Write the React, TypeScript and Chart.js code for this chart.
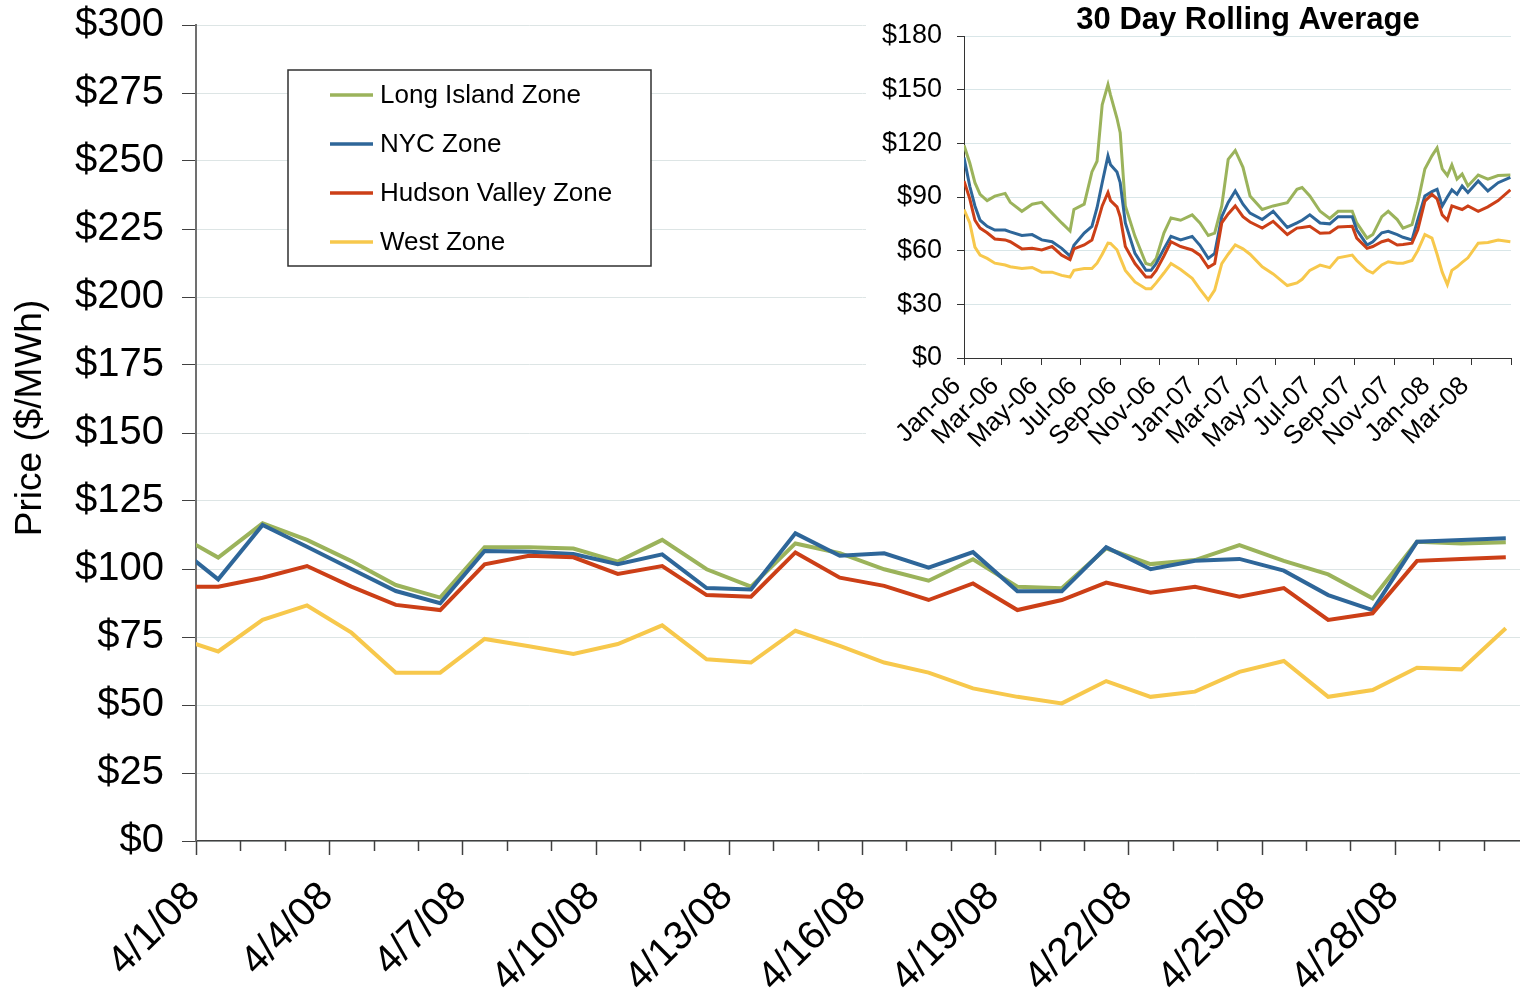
import React, { useEffect, useRef } from 'react';
import { Chart, registerables } from 'chart.js';

Chart.register(...registerables);

const FONT = "'Liberation Sans', Arial, Helvetica, sans-serif";

const seriesNames = ['Long Island Zone', 'NYC Zone', 'Hudson Valley Zone', 'West Zone'];
const seriesColors = ['#9bb35b', '#2e6699', '#cc3f17', '#f7c84c'];

// ---- Main chart: daily prices (3/31/08 is only partly visible: clipped at the axis) ----
const mainDates = [
  '3/31/08', '4/1/08', '4/2/08', '4/3/08', '4/4/08', '4/5/08', '4/6/08', '4/7/08', '4/8/08', '4/9/08', '4/10/08',
  '4/11/08', '4/12/08', '4/13/08', '4/14/08', '4/15/08', '4/16/08', '4/17/08', '4/18/08', '4/19/08', '4/20/08',
  '4/21/08', '4/22/08', '4/23/08', '4/24/08', '4/25/08', '4/26/08', '4/27/08', '4/28/08', '4/29/08', '4/30/08',
];
const longIsland = [113.4, 104.2, 116.8, 110.7, 102.9, 94.1, 89.5, 108.0, 108.0, 107.5, 102.7, 110.7, 99.9, 93.5, 109.4, 105.8, 99.9, 95.7, 103.6, 93.5, 92.9, 107.6, 101.8, 103.3, 108.8, 103.0, 98.0, 89.2, 110.0, 109.4, 109.8];
const nyc = [109.2, 96.2, 116.2, 108.2, 100.0, 91.9, 87.4, 106.6, 106.3, 105.5, 101.8, 105.4, 93.0, 92.5, 113.1, 104.9, 105.8, 100.5, 106.2, 91.8, 91.8, 108.0, 99.9, 103.0, 103.7, 99.4, 90.4, 84.9, 110.0, 110.7, 111.3];
const hudsonValley = [93.5, 93.5, 96.8, 101.1, 93.5, 86.8, 84.9, 101.7, 104.9, 104.3, 98.2, 101.1, 90.4, 89.8, 106.1, 96.8, 93.8, 88.6, 94.7, 84.9, 88.6, 95.0, 91.3, 93.5, 89.8, 93.0, 81.3, 83.7, 103.0, 103.7, 104.3];
const west = [75.1, 69.7, 81.3, 86.6, 76.6, 61.9, 61.9, 74.3, 71.6, 68.8, 72.4, 79.3, 66.8, 65.6, 77.3, 71.7, 65.6, 61.9, 56.1, 53.0, 50.6, 58.8, 53.0, 54.9, 62.2, 66.2, 53.0, 55.5, 63.7, 63.1, 78.2];
const mainTickLabels = ['4/1/08', '4/4/08', '4/7/08', '4/10/08', '4/13/08', '4/16/08', '4/19/08', '4/22/08', '4/25/08', '4/28/08'];
const mainYTitle = 'Price ($/MWh)';

// ---- Inset: 30 day rolling average, x = days since 1 Jan 2006 ----
const insetTitle = '30 Day Rolling Average';
const insetDays = [0, 9, 17, 25, 36, 48, 64, 72, 90, 106, 121, 137, 152, 165, 171, 187, 199, 207, 215, 224, 228, 238, 243, 251, 266, 283, 291, 299, 311, 322, 337, 355, 367, 380, 390, 401, 411, 422, 434, 445, 464, 481, 503, 518, 526, 538, 554, 569, 582, 604, 611, 627, 636, 650, 660, 674, 683, 697, 706, 717, 728, 736, 744, 752, 759, 767, 775, 784, 800, 815, 831, 850];
const insetLongIsland = [119, 109, 98, 91.5, 88, 90.5, 92, 87, 82, 86, 87, 81, 75.5, 71, 83, 86, 104, 110, 141.5, 152.8, 147, 134, 126, 85, 68, 52.8, 52, 55.7, 69.8, 78.3, 77, 80, 75.5, 68.5, 69.8, 85, 111, 116, 106.6, 90.6, 83, 85, 86.8, 94.3, 95.3, 90.6, 82, 78, 82, 82, 75.5, 67, 69, 79, 82, 77.4, 72.6, 74.5, 86.8, 105.7, 113, 117.4, 105.7, 102, 108, 100, 102.8, 96.2, 102.3, 100, 102, 102.3];
const insetNyc = [112, 96, 85, 77, 73.6, 71.5, 71.5, 70.5, 68.5, 69, 66, 65, 61.3, 57, 63, 69.8, 73.6, 84, 98, 113, 108, 104, 98, 75.5, 58.5, 49, 49, 52.8, 61, 68, 66, 68, 63, 55.7, 58.5, 79, 87, 93.4, 86, 81, 77.4, 82, 73, 75.5, 77, 80, 75.5, 75, 79, 79, 71.7, 63.2, 65, 70, 70.8, 69, 67.5, 66, 77.4, 90.6, 93, 94.3, 85, 90, 94, 91.5, 96.2, 92.5, 99, 93.4, 98, 101];
const insetHudsonValley = [99, 89, 77, 72.6, 70, 66.5, 66, 65, 61, 61.3, 60.4, 62.3, 57.5, 55, 61, 63.2, 66, 75, 85, 92.5, 88, 84.5, 79, 62.3, 52.8, 45.3, 45.3, 49, 57, 65, 62.3, 60.4, 57.5, 50.6, 52.8, 75.5, 80.5, 85, 79, 76, 72.6, 76.4, 69, 72.6, 73, 73.6, 69.8, 70, 73.2, 73.6, 67, 61.3, 62.3, 65, 66, 63.2, 63.5, 64.2, 71.7, 87.7, 91.5, 89, 80, 77, 85, 84, 83, 85, 82, 84.5, 88, 94];
const insetWest = [83, 75.5, 62, 57.5, 55.7, 53, 52, 51, 50, 50.6, 48, 48, 46.2, 45.3, 49, 50, 50, 53, 58, 64.2, 64, 60.5, 56, 49, 42.5, 38.7, 38.7, 42, 47.5, 52.8, 49.5, 44.5, 38.5, 32.5, 38, 52.8, 58, 63.2, 61, 58, 51, 47, 40.5, 42, 44, 49, 51.9, 50.5, 56, 57.5, 54.5, 49, 47.5, 52, 53.8, 53, 53, 54.5, 60, 69, 67, 58, 48, 41, 49, 51, 53.5, 56, 64.2, 64.6, 66, 65];
const insetTickDays = [0, 59, 120, 181, 243, 304, 365, 424, 485, 546, 608, 669, 730, 790, 851];
const insetTickLabels = ['Jan-06', 'Mar-06', 'May-06', 'Jul-06', 'Sep-06', 'Nov-06', 'Jan-07', 'Mar-07', 'May-07', 'Jul-07', 'Sep-07', 'Nov-07', 'Jan-08', 'Mar-08', ''];

const mainSeries = [longIsland, nyc, hudsonValley, west];
const insetSeries = [insetLongIsland, insetNyc, insetHudsonValley, insetWest];

const MAIN_W = 1568;
const MAIN_H = 994;
const INSET_LEFT = 866;
const INSET_W = 764;
const INSET_H = 465;

const boxLegend = {
  id: 'boxLegend',
  afterDraw(chart: any) {
    const ctx = chart.ctx;
    ctx.save();
    ctx.fillStyle = '#ffffff';
    ctx.fillRect(288, 70, 363, 196);
    ctx.strokeStyle = '#303030';
    ctx.lineWidth = 1.5;
    ctx.strokeRect(288, 70, 363, 196);
    chart.data.datasets.forEach((ds: any, i: number) => {
      const y = 95 + i * 49;
      ctx.strokeStyle = ds.borderColor;
      ctx.lineWidth = 3.5;
      ctx.beginPath();
      ctx.moveTo(330, y);
      ctx.lineTo(373, y);
      ctx.stroke();
      ctx.fillStyle = '#000';
      ctx.font = `26px ${FONT}`;
      ctx.textBaseline = 'middle';
      ctx.textAlign = 'left';
      ctx.fillText(ds.label, 380, y + 1);
    });
    ctx.restore();
  },
};

const dayTicks = {
  id: 'dayTicks',
  afterDraw(chart: any) {
    const xs = chart.scales.x;
    const ctx = chart.ctx;
    ctx.save();
    ctx.strokeStyle = '#404040';
    ctx.lineWidth = 1.5;
    xs.ticks.forEach((t: any) => {
      const px = Math.round(xs.getPixelForValue(t.value)) + 0.5;
      const len = t.value % 3 === 0 ? 14 : 10;
      ctx.beginPath();
      ctx.moveTo(px, xs.top);
      ctx.lineTo(px, xs.top + len);
      ctx.stroke();
    });
    ctx.restore();
  },
};

const yTitle = {
  id: 'yTitle',
  afterDraw(chart: any) {
    const ctx = chart.ctx;
    ctx.save();
    ctx.translate(31, 418);
    ctx.rotate(-Math.PI / 2);
    ctx.fillStyle = '#000';
    ctx.font = `37px ${FONT}`;
    ctx.textAlign = 'center';
    ctx.textBaseline = 'middle';
    ctx.fillText(mainYTitle, 0, 0);
    ctx.restore();
  },
};

const insetTitlePlugin = {
  id: 'insetTitle',
  afterDraw(chart: any) {
    const ctx = chart.ctx;
    ctx.save();
    ctx.fillStyle = '#000';
    ctx.font = `bold 31px ${FONT}`;
    ctx.textAlign = 'center';
    ctx.textBaseline = 'middle';
    ctx.fillText(insetTitle, 1248 - INSET_LEFT, 20);
    ctx.restore();
  },
};

export default function App() {
  const mainRef = useRef<HTMLCanvasElement>(null);
  const insetRef = useRef<HTMLCanvasElement>(null);

  useEffect(() => {
    const main = new Chart(mainRef.current as HTMLCanvasElement, {
      type: 'line',
      data: {
        datasets: seriesNames.map((name, k) => ({
          label: name,
          data: mainDates.map((_, i) => ({ x: i - 0.5, y: mainSeries[k][i] })),
          borderColor: seriesColors[k],
          backgroundColor: seriesColors[k],
          borderWidth: 4,
          pointRadius: 0,
          tension: 0,
          fill: false,
          clip: 0,
          order: seriesNames.length - k,
        })),
      },
      options: {
        animation: false,
        responsive: false,
        maintainAspectRatio: false,
        layout: { padding: { top: 25, right: MAIN_W - 1528, left: 0, bottom: 0 } },
        plugins: { legend: { display: false }, tooltip: { enabled: false }, title: { display: false } },
        scales: {
          x: {
            type: 'linear',
            min: 0,
            max: 30,
            afterBuildTicks: (s: any) => {
              s.ticks = mainDates.map((_, i) => ({ value: i }));
            },
            afterFit: (s: any) => {
              s.height = MAIN_H - 841;
              s.paddingLeft = 0;
              s.paddingRight = 0;
            },
            grid: { drawOnChartArea: false, drawTicks: true, tickLength: 14, tickColor: 'rgba(0,0,0,0)' },
            border: { display: true, color: '#404040', width: 1.5 },
            ticks: {
              autoSkip: false,
              maxRotation: 45,
              minRotation: 45,
              padding: 18,
              labelOffset: -2,
              color: '#000',
              font: { family: FONT, size: 40 },
              callback: (v: any) => (v % 3 === 0 && v / 3 < mainTickLabels.length ? mainTickLabels[v / 3] : ''),
            },
          },
          y: {
            min: 0,
            max: 300,
            afterFit: (s: any) => {
              s.width = 196;
              s.paddingTop = 0;
              s.paddingBottom = 0;
            },
            ticks: {
              stepSize: 25,
              padding: 18,
              color: '#000',
              font: { family: FONT, size: 40 },
              callback: (v: any) => '$' + v,
            },
            grid: { color: '#dde5e5', lineWidth: 1, drawTicks: true, tickLength: 14, tickColor: '#404040' },
            border: { color: '#707070', width: 2 },
          },
        },
      },
      plugins: [boxLegend, dayTicks, yTitle],
    } as any);

    const inset = new Chart(insetRef.current as HTMLCanvasElement, {
      type: 'line',
      data: {
        datasets: seriesNames.map((name, k) => ({
          label: name,
          data: insetDays.map((d, i) => ({ x: d, y: insetSeries[k][i] })),
          borderColor: seriesColors[k],
          backgroundColor: seriesColors[k],
          borderWidth: 3,
          pointRadius: 0,
          tension: 0,
          fill: false,
          order: seriesNames.length - k,
        })),
      },
      options: {
        animation: false,
        responsive: false,
        maintainAspectRatio: false,
        layout: { padding: { top: 36, right: INSET_W - (1511 - INSET_LEFT), left: 0, bottom: 0 } },
        plugins: {
          legend: { display: false },
          tooltip: { enabled: false },
          title: { display: false },
        },
        scales: {
          x: {
            type: 'linear',
            min: 0,
            max: 851,
            afterBuildTicks: (s: any) => {
              s.ticks = insetTickDays.map((d) => ({ value: d }));
            },
            afterFit: (s: any) => {
              s.height = INSET_H - 358;
              s.paddingLeft = 0;
              s.paddingRight = 0;
            },
            grid: { drawOnChartArea: false, drawTicks: true, tickLength: 7, tickColor: '#333' },
            border: { display: true, color: '#333', width: 1 },
            ticks: {
              autoSkip: false,
              maxRotation: 45,
              minRotation: 45,
              padding: 6,
              labelOffset: -7,
              color: '#000',
              font: { family: FONT, size: 26 },
              callback: (v: any) => {
                const idx = insetTickDays.indexOf(v);
                return idx >= 0 ? insetTickLabels[idx] : '';
              },
            },
          },
          y: {
            min: 0,
            max: 180,
            afterFit: (s: any) => {
              s.width = 964 - INSET_LEFT;
              s.paddingTop = 0;
              s.paddingBottom = 0;
            },
            ticks: {
              stepSize: 30,
              padding: 15,
              color: '#000',
              font: { family: FONT, size: 27 },
              callback: (v: any) => '$' + v,
            },
            grid: { color: '#d9e6e8', lineWidth: 1, drawTicks: true, tickLength: 7, tickColor: '#333' },
            border: { color: '#333', width: 1 },
          },
        },
      },
      plugins: [insetTitlePlugin],
    } as any);

    return () => {
      main.destroy();
      inset.destroy();
    };
  }, []);

  return (
    <div
      style={{
        position: 'absolute',
        left: 0,
        top: 0,
        width: 1520,
        height: 994,
        overflow: 'hidden',
        background: '#fff',
      }}
    >
      <canvas ref={mainRef} width={MAIN_W} height={MAIN_H} style={{ position: 'absolute', left: 0, top: 0 }} />
      <div
        style={{
          position: 'absolute',
          left: INSET_LEFT,
          top: 0,
          width: INSET_W,
          height: INSET_H,
          background: '#fff',
        }}
      >
        <canvas ref={insetRef} width={INSET_W} height={INSET_H} style={{ position: 'absolute', left: 0, top: 0 }} />
      </div>
    </div>
  );
}
